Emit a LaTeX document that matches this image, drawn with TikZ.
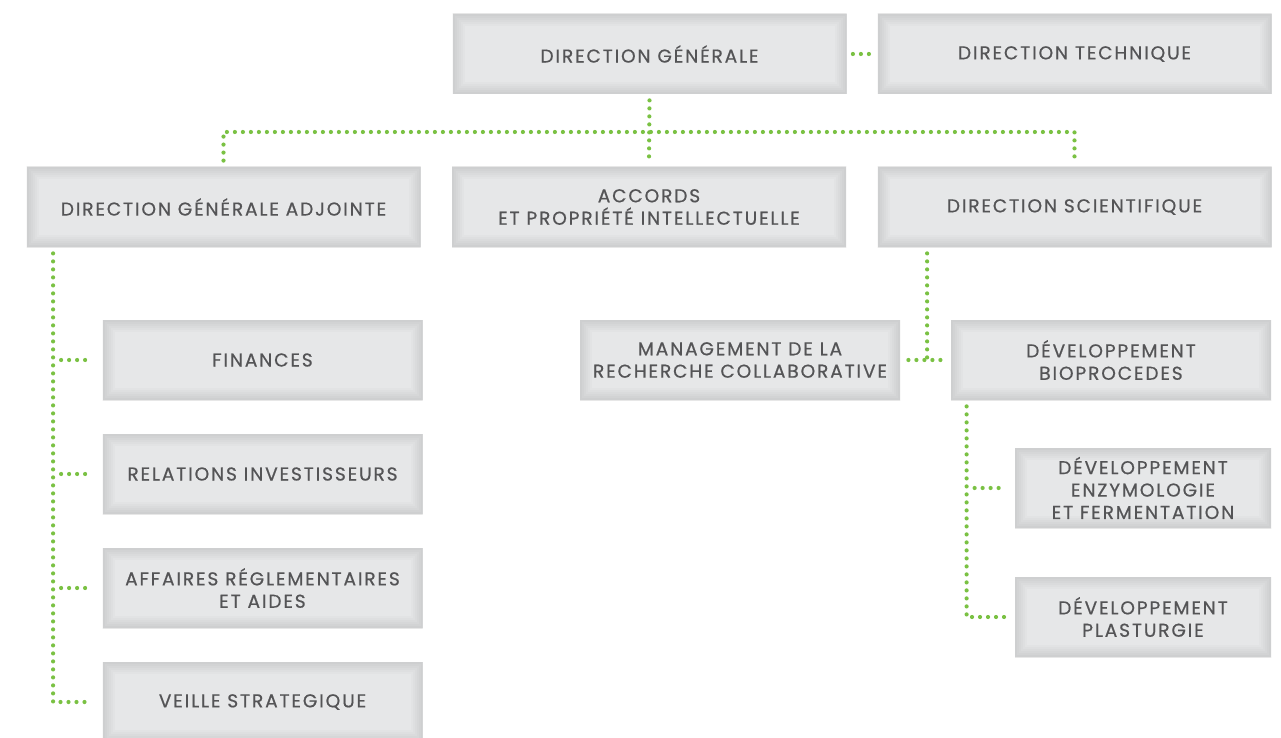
\documentclass[tikz,border=0pt]{standalone}
\usepackage{fontspec}
\setmainfont[LetterSpace=10,FakeBold=0.6]{Poppins}
\usetikzlibrary{calc}
\definecolor{boxgray}{HTML}{E6E7E8}
\definecolor{txtgray}{HTML}{545456}
\definecolor{dotgreen}{HTML}{7AC143}
\begin{document}
\begin{tikzpicture}[
    x=0.5pt, y=-0.5pt,
    unit/.style={fill=boxgray, minimum height=40pt, inner sep=2pt, align=center,
      text=txtgray, font=\fontsize{9.3}{11.2}\selectfont,
      path picture={
        \foreach \w in {12pt,10pt,8pt,6pt,4pt,2pt}
          \draw[black, opacity=0.014, line width=\w]
            (path picture bounding box.south west) rectangle (path picture bounding box.north east);
      }},
    big/.style={unit, minimum width=197pt},
    mid/.style={unit, minimum width=160pt},
    small/.style={unit, minimum width=128pt},
    link/.style={draw=dotgreen, line width=2.1pt, line cap=round, dash pattern=on 0pt off 4pt},
  ]
    \useasboundingbox (0,0) rectangle (1281,738);
    % top level
    \node[big] (dg) at (649.5,54) {DIRECTION GÉNÉRALE};
    \node[big] (dt) at (1074.5,54) {DIRECTION TECHNIQUE};
    % second level
    \node[big] (dga) at (223.5,207) {DIRECTION GÉNÉRALE ADJOINTE};
    \node[big] (acc) at (649,207) {ACCORDS\\ET PROPRIÉTÉ INTELLECTUELLE};
    \node[big] (ds) at (1074.5,207) {DIRECTION SCIENTIFIQUE};
    % services under DGA
    \foreach \n/\y/\t in {fin/360/FINANCES, rel/474/RELATIONS INVESTISSEURS,
      aff/588/{AFFAIRES RÉGLEMENTAIRES\\ET AIDES}, vei/702/VEILLE STRATEGIQUE}
    { \node[mid] (\n) at (262.5,\y) {\t}; }
    % scientific side
    \node[mid] (man) at (740,360) {MANAGEMENT DE LA\\RECHERCHE COLLABORATIVE};
    \node[mid] (dbp) at (1111,360) {DÉVELOPPEMENT\\BIOPROCEDES};
    \node[small] (enz) at (1143,488) {DÉVELOPPEMENT\\ENZYMOLOGIE\\ET FERMENTATION};
    \node[small] (pla) at (1143,617) {DÉVELOPPEMENT\\PLASTURGIE};
    % links
    \coordinate (bus) at (650,132);
    \draw[link] ([xshift=3pt]dg.east) -- ([xshift=-3pt]dt.west);
    \draw[link] ([yshift=-3pt]dg.south) -- ([yshift=3pt]acc.north);
    \draw[link] ([yshift=3pt]dga.north) |- (bus) -| ([yshift=3pt]ds.north);
    % DGA column
    \coordinate (lt) at ($(dga.south west)+(13.5pt,-3pt)$);
    \draw[link] (lt) |- ([xshift=-7pt]vei.west);
    \foreach \n in {fin,rel,aff}
    { \draw[link] ($(lt |- \n.west)+(4pt,0)$) -- ([xshift=-7pt]\n.west); }
    % DS column
    \coordinate (rt) at ($(ds.south west)+(25pt,-3pt)$);
    \draw[link] ([xshift=4pt]man.east) -- ([xshift=-3pt]dbp.west);
    \draw[link] (rt) -- (rt |- dbp.west);
    \coordinate (bt) at ($(dbp.south west)+(8pt,-3pt)$);
    \draw[link] (bt) |- ([xshift=-4.5pt]pla.west);
    \draw[link] ($(bt |- enz.west)+(4pt,0)$) -- ([xshift=-4.5pt]enz.west);
  \end{tikzpicture}
\end{document}
